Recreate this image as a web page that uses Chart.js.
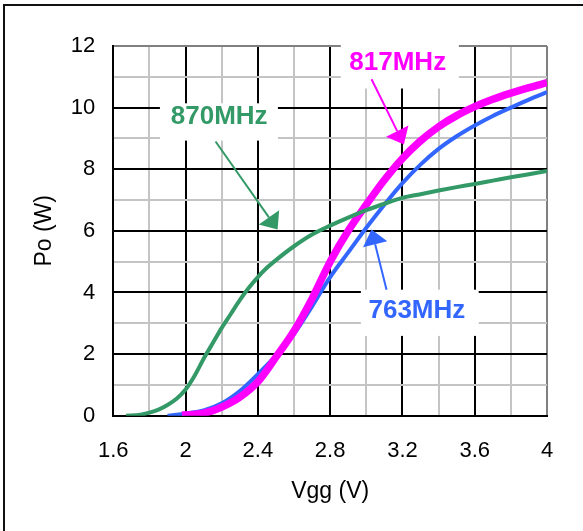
<!DOCTYPE html>
<html>
<head>
<meta charset="utf-8">
<title>Po vs Vgg</title>
<script src="https://cdn.jsdelivr.net/npm/chart.js@4.4.1/dist/chart.umd.min.js"></script>
<style>
  html, body { margin: 0; padding: 0; background: #fff; }
  #wrap { position: relative; width: 583px; height: 531px; overflow: hidden; }
  #frame { position: absolute; left: 3px; top: 4px; width: 620px; height: 580px; border: 2px solid #111; box-sizing: border-box; }
  #box { position: absolute; left: 0; top: 0; width: 583px; height: 531px; }
</style>
</head>
<body>
<div id="wrap">
  <div id="frame"></div>
  <div id="box"><canvas id="poChart"></canvas></div>
</div>
<script>
// Output power vs gate voltage, three frequencies
const vgg870 = [1.67, 1.75, 1.8, 1.85, 1.9, 1.95, 2.0, 2.05, 2.1, 2.15, 2.2, 2.25, 2.3, 2.35, 2.4, 2.45, 2.5, 2.6, 2.7, 2.8, 2.9, 3.0, 3.1, 3.2, 3.3, 3.4, 3.5, 3.6, 3.7, 3.8, 3.9, 4.0];
const po870  = [0, 0.03, 0.1, 0.2, 0.35, 0.55, 0.85, 1.3, 1.85, 2.35, 2.85, 3.3, 3.75, 4.15, 4.5, 4.8, 5.05, 5.5, 5.88, 6.17, 6.43, 6.67, 6.88, 7.07, 7.19, 7.31, 7.42, 7.52, 7.63, 7.74, 7.84, 7.94];

const vgg817 = [1.98, 2.1, 2.2, 2.3, 2.4, 2.5, 2.6, 2.7, 2.8, 2.9, 3.0, 3.1, 3.2, 3.3, 3.4, 3.5, 3.6, 3.7, 3.8, 3.9, 4.0];
const po817  = [0.02, 0.08, 0.28, 0.6, 1.1, 1.9, 2.75, 3.8, 5.0, 6.0, 6.85, 7.65, 8.35, 8.92, 9.38, 9.74, 10.03, 10.27, 10.47, 10.65, 10.81];

const vgg763 = [1.9, 1.95, 2.0, 2.1, 2.2, 2.3, 2.4, 2.5, 2.6, 2.7, 2.8, 2.9, 3.0, 3.1, 3.2, 3.3, 3.4, 3.5, 3.6, 3.7, 3.8, 3.9, 4.0];
const po763  = [0, 0.03, 0.07, 0.17, 0.4, 0.8, 1.35, 1.95, 2.65, 3.55, 4.5, 5.3, 6.1, 6.85, 7.55, 8.15, 8.66, 9.07, 9.42, 9.73, 10.0, 10.26, 10.5];

const vggGrid = [1.6, 1.8, 2.0, 2.2, 2.4, 2.6, 2.8, 3.0, 3.2, 3.4, 3.6, 3.8, 4.0];
const vggLabels = ['1.6', '2', '2.4', '2.8', '3.2', '3.6', '4'];
const poGrid = [0, 1, 2, 3, 4, 5, 6, 7, 8, 9, 10, 11, 12];
const poLabels = ['0', '2', '4', '6', '8', '10', '12'];

const FONT = '"Liberation Sans", Arial, Helvetica, sans-serif';

function pts(xs, ys) {
  return xs.map((x, i) => ({ x: x, y: ys[i] }));
}

function labelFor(list, v) {
  const hit = list.find(t => Math.abs(parseFloat(t) - v) < 1e-6);
  return hit === undefined ? '' : hit;
}

function gridColor(list, max) {
  return ctx => {
    const v = ctx.tick.value;
    if (Math.abs(v - max) < 1e-6) return '#808080';
    return labelFor(list, v) !== '' ? '#000' : '#c4c4c4';
  };
}

// frequency tags with white boxes and arrows, in data units
const callouts = [
  { text: '870MHz', color: '#339966', box: [1.858, 2.511, 10.14, 8.93], at: [2.186, 9.71], from: [2.166, 8.90], to: [2.509, 6.04] },
  { text: '817MHz', color: '#ff00ff', box: [2.859, 3.512, 12.22, 10.62], at: [3.174, 11.47], from: [3.029, 10.92], to: [3.208, 8.80] },
  { text: '763MHz', color: '#3366ff', box: [2.970, 3.622, 4.09, 2.59], at: [3.280, 3.405], from: [3.112, 4.09], to: [3.029, 6.04] }
];

const calloutPlugin = {
  id: 'callouts',
  afterDraw(chart) {
    const { ctx, scales: { x, y } } = chart;
    ctx.save();
    callouts.forEach(c => {
      const x1 = x.getPixelForValue(c.box[0]), x2 = x.getPixelForValue(c.box[1]);
      const y1 = y.getPixelForValue(c.box[2]), y2 = y.getPixelForValue(c.box[3]);
      ctx.fillStyle = '#fff';
      ctx.fillRect(x1, y1, x2 - x1, y2 - y1);

      ctx.fillStyle = c.color;
      ctx.font = 'bold 26px ' + FONT;
      ctx.textAlign = 'center';
      ctx.textBaseline = 'middle';
      ctx.fillText(c.text, x.getPixelForValue(c.at[0]), y.getPixelForValue(c.at[1]));

      const fx = x.getPixelForValue(c.from[0]), fy = y.getPixelForValue(c.from[1]);
      const tx = x.getPixelForValue(c.to[0]), ty = y.getPixelForValue(c.to[1]);
      const len = Math.hypot(tx - fx, ty - fy);
      const ux = (tx - fx) / len, uy = (ty - fy) / len;
      const headLen = 15, headHalf = 12.5;
      const bx = tx - ux * headLen, by = ty - uy * headLen;

      ctx.strokeStyle = c.color;
      ctx.lineWidth = 2;
      ctx.beginPath();
      ctx.moveTo(fx, fy);
      ctx.lineTo(bx, by);
      ctx.stroke();

      ctx.beginPath();
      ctx.moveTo(tx, ty);
      ctx.lineTo(bx - uy * headHalf, by + ux * headHalf);
      ctx.lineTo(bx + uy * headHalf, by - ux * headHalf);
      ctx.closePath();
      ctx.fill();
    });
    ctx.restore();
  }
};

new Chart(document.getElementById('poChart'), {
  type: 'line',
  data: {
    datasets: [
      { label: '870MHz', data: pts(vgg870, po870), borderColor: '#339966', borderWidth: 4 },
      { label: '817MHz', data: pts(vgg817, po817), borderColor: '#ff00ff', borderWidth: 7.5 },
      { label: '763MHz', data: pts(vgg763, po763), borderColor: '#3366ff', borderWidth: 4 }
    ]
  },
  options: {
    responsive: true,
    maintainAspectRatio: false,
    animation: false,
    parsing: false,
    elements: {
      point: { radius: 0 },
      line: { cubicInterpolationMode: 'monotone', borderCapStyle: 'butt' }
    },
    layout: { padding: { top: 46, right: 36, left: 0, bottom: 0 } },
    plugins: { legend: { display: false }, tooltip: { enabled: false } },
    scales: {
      x: {
        type: 'linear',
        min: 1.6,
        max: 4,
        afterBuildTicks: s => { s.ticks = vggGrid.map(v => ({ value: v })); },
        afterFit: s => { s.height = 115.3; },
        grid: { color: gridColor(vggLabels, 4), lineWidth: 2, drawTicks: false },
        border: { color: '#000', width: 2 },
        ticks: {
          callback: v => labelFor(vggLabels, v),
          autoSkip: false,
          maxRotation: 0,
          padding: 22,
          color: '#000',
          font: { family: FONT, size: 22 }
        },
        title: {
          display: true,
          text: 'Vgg (V)',
          color: '#000',
          font: { family: FONT, size: 23 },
          padding: { top: 0, bottom: 26 }
        }
      },
      y: {
        type: 'linear',
        min: 0,
        max: 12,
        afterBuildTicks: s => { s.ticks = poGrid.map(v => ({ value: v })); },
        afterFit: s => { s.width = 113.3; },
        grid: { color: gridColor(poLabels, 12), lineWidth: 2, drawTicks: false },
        border: { color: '#000', width: 2 },
        ticks: {
          callback: v => labelFor(poLabels, v),
          autoSkip: false,
          padding: 18,
          color: '#000',
          font: { family: FONT, size: 22 }
        },
        title: {
          display: true,
          text: 'Po (W)',
          color: '#000',
          font: { family: FONT, size: 23 },
          padding: { top: 31, bottom: 0 }
        }
      }
    }
  },
  plugins: [calloutPlugin]
});
</script>
</body>
</html>
